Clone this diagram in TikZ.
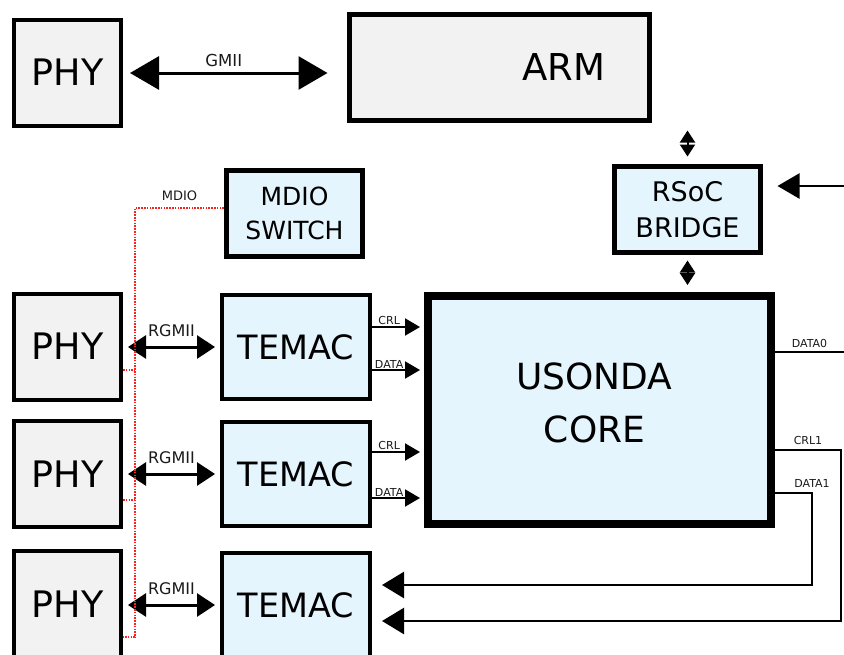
\documentclass[tikz,border=0pt]{standalone}
\usepackage{fontspec}
\setmainfont{DejaVu Sans}
\usepackage{xcolor}
\usepackage{tikz}
\usetikzlibrary{calc,arrows.meta}
\definecolor{boxgray}{HTML}{F2F2F2}
\definecolor{boxblue}{HTML}{E4F5FD}
\definecolor{inkx}{HTML}{1A1A1A}
\definecolor{mdred}{HTML}{FF2020}
\tikzset{
  gbox/.style={draw=black,fill=boxgray,line width=4pt,inner sep=0pt,align=center},
  bbox/.style={draw=black,fill=boxblue,line width=4pt,inner sep=0pt,align=center},
  phy/.style={gbox,minimum width=107pt,minimum height=106pt,font=\fontsize{36.5pt}{40pt}\selectfont},
  temac/.style={bbox,minimum width=148pt,minimum height=104pt,font=\fontsize{33.5pt}{38pt}\selectfont},
  lbl/.style={font=\fontsize{11pt}{13pt}\selectfont,text=inkx,inner sep=1pt},
  gmii/.style={{Triangle[length=29pt,width=33pt]}-{Triangle[length=29pt,width=33pt]},line width=3pt},
  rgmii/.style={{Triangle[length=18pt,width=23pt]}-{Triangle[length=18pt,width=23pt]},line width=3pt},
  sig/.style={-{Triangle[length=15pt,width=17pt]},line width=2pt},
  vbus/.style={{Triangle[length=12pt,width=15pt]}-{Triangle[length=12pt,width=15pt]},line width=2pt},
  ret/.style={-{Triangle[length=22pt,width=26pt]},line width=2.5pt},
  wire/.style={line width=2pt},
  mdio/.style={mdred,line width=2pt,dash pattern=on 1.6pt off 1.2pt}
}
\begin{document}
\begin{tikzpicture}[x=1pt,y=-1pt]
\fill[white] (0,0) rectangle (844,654);
\clip (0,0) rectangle (844,654);
% boxes
\node[phy] (phyA) at (67.5,72.5) {PHY};
\node[phy] (phyB) at (67.5,346.5) {PHY};
\node[phy] (phyC) at (67.5,474) {PHY};
\node[phy] (phyD) at (67.5,604) {PHY};
\node[gbox,line width=5pt,minimum width=300pt,minimum height=106pt,
  label={[font=\fontsize{37pt}{40pt}\selectfont,xshift=64pt]center:ARM}] (arm) at (499.5,67.5) {};
\node[bbox,line width=5pt,minimum width=136pt,minimum height=86pt,font=\fontsize{25pt}{34pt}\selectfont] (mdsw) at (294.5,213.5) {MDIO\\SWITCH};
\node[bbox,line width=5pt,minimum width=146pt,minimum height=86pt,font=\fontsize{27pt}{36pt}\selectfont] (bridge) at (687.5,209.5) {RSoC\\BRIDGE};
\node[temac] (temacA) at (296,347) {TEMAC};
\node[temac] (temacB) at (296,474) {TEMAC};
\node[temac] (temacC) at (296,605) {TEMAC};
\node[bbox,line width=8pt,minimum width=343pt,minimum height=228pt,
  label={[font=\fontsize{36pt}{53pt}\selectfont,align=center,xshift=-5pt,yshift=7pt]center:USONDA\\CORE}] (core) at (599.5,410) {};
% GMII and RGMII links
\draw[gmii,shorten <=7pt,shorten >=19.5pt] (phyA.east |- 0,73) -- node[above=5pt,pos=0.45,font=\fontsize{16.5pt}{18pt}\selectfont,text=inkx,inner sep=0pt] {GMII} (arm.west |- 0,73);
\foreach \p/\t in {phyB/temacA,phyC/temacB,phyD/temacC}
  \draw[rgmii,shorten <=5pt,shorten >=5pt] (\t.west -| \p.east) -- node[above=9pt,font=\fontsize{16pt}{18pt}\selectfont,text=inkx,inner sep=0pt] {RGMII} (\t.west);
% MDIO bus
\coordinate (mdtop) at (135,208);
\coordinate (mdbot) at (135,637);
\draw[mdio] (mdsw.west |- mdtop) -- node[above=6pt,font=\fontsize{13pt}{15pt}\selectfont,text=inkx,inner sep=0pt] {MDIO} (mdtop) -- (mdbot) -- (mdbot -| phyD.east);
\draw[mdio] (phyB.east |- 0,370) -- (mdtop |- 0,370);
\draw[mdio] (phyC.east |- 0,500) -- (mdtop |- 0,500);
% TEMAC to core
\foreach \t/\a/\b in {temacA/20/-23,temacB/22/-24}{
  \draw[sig,shorten >=4pt] ([yshift=\a pt]\t.east) -- node[lbl,above,pos=0.33] {CRL} ([yshift=\a pt]\t.east -| core.west);
  \draw[sig,shorten >=4pt] ([yshift=\b pt]\t.east) -- node[lbl,above,pos=0.33] {DATA} ([yshift=\b pt]\t.east -| core.west);
}
% ARM / bridge / core
\draw[vbus,shorten <=7.5pt,shorten >=7.5pt] (bridge.north |- arm.south) -- (bridge.north);
\draw[vbus,shorten <=5.5pt,shorten >=7pt] (bridge.south) -- (bridge.south |- core.north);
\coordinate (extin) at (844,186);
\draw[-{Triangle[length=22pt,width=25pt]},line width=2.5pt,shorten >=14.5pt] (extin) -- (extin -| bridge.east);
% core outputs
\draw[wire] (core.east |- 0,352) -- node[lbl,above=2pt] {DATA0} (844,352);
\coordinate (crlc) at (841,450);
\coordinate (datc) at (812,493);
\draw[ret,shorten >=10pt] (core.east |- crlc) -- node[lbl,above=3pt] {CRL1} (crlc) -- (crlc |- 0,621) -- (temacC.east |- 0,621);
\draw[ret,shorten >=10pt] (core.east |- datc) -- (datc) node[lbl,above=3pt] {DATA1} -- (datc |- 0,585) -- (temacC.east |- 0,585);
\end{tikzpicture}
\end{document}
